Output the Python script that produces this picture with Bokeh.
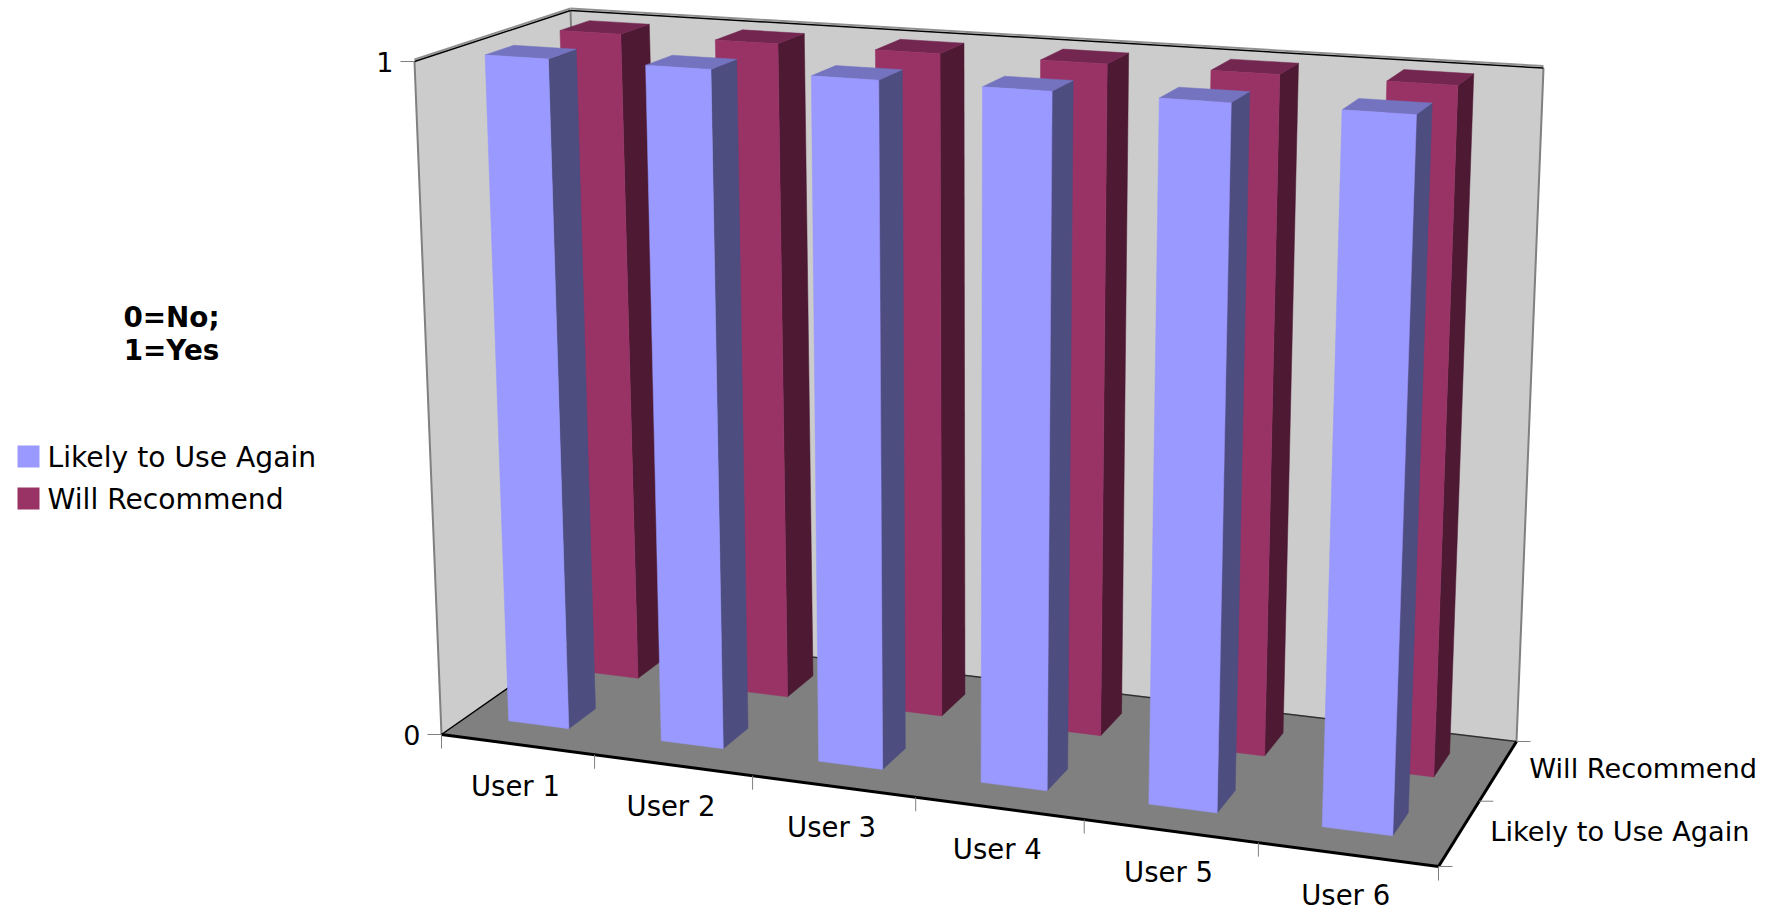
import numpy as np
from bokeh.embed import file_html
from bokeh.models import ColumnDataSource, Range1d
from bokeh.plotting import figure
from bokeh.resources import INLINE
from bokeh.core.properties import value

# Chart data
users = ["User 1", "User 2", "User 3", "User 4", "User 5", "User 6"]
series = ["Likely to Use Again", "Will Recommend"]
likely_to_use_again = [1, 1, 1, 1, 1, 1]
will_recommend = [1, 1, 1, 1, 1, 1]
value_ticks = [0, 1]

# Colours per series: front, side, top
face_colors = {
    "Likely to Use Again": ("#9999FF", "#4D4D80", "#7373BF"),
    "Will Recommend": ("#993366", "#4D1933", "#732650"),
}
FONT = "DejaVu Sans"

W, H = 1767, 912

# Screen position of the box corners: front-left, back-left, back-right, front-right
floor_corners = [(441, 734), (590, 630), (1516, 741), (1438, 866)]
top_corners = [(414, 61), (570, 10), (1543, 67.6), (1465, 129.5)]


def homography(corners):
    """Map the unit square (u along users, v into depth) on to a screen quadrilateral."""
    src = [(0, 0), (0, 1), (1, 1), (1, 0)]
    a, b = [], []
    for (u, v), (x, y) in zip(src, corners):
        a.append([u, v, 1, 0, 0, 0, -u * x, -v * x])
        b.append(x)
        a.append([0, 0, 0, u, v, 1, -u * y, -v * y])
        b.append(y)
    return np.append(np.linalg.solve(np.array(a, float), np.array(b, float)), 1).reshape(3, 3)


H_floor = homography(floor_corners)
H_top = homography(top_corners)


def apply(m, u, v):
    q = m @ np.array([u, v, 1.0])
    return q[:2] / q[2]


def project(cat, depth, val):
    """Category position (0..6), depth (0..1), value (0..1) to screen coordinates."""
    u = cat / len(users)
    return (1 - val) * apply(H_floor, u, depth) + val * apply(H_top, u, depth)


def poly(points):
    pts = [project(*pt) for pt in points]
    return [float(q[0]) for q in pts], [float(q[1]) for q in pts]


p = figure(
    width=W, height=H, output_backend="svg", toolbar_location=None,
    x_range=Range1d(0, W), y_range=Range1d(H, 0),
    min_border=0, outline_line_color=None, background_fill_color="white",
)
p.axis.visible = False
p.grid.visible = False


def draw_polys(polys, colors):
    src = ColumnDataSource(dict(
        xs=[q[0] for q in polys], ys=[q[1] for q in polys], c=colors))
    p.patches("xs", "ys", source=src, fill_color="c", line_color="c", line_width=0.5)


def draw_line(a, b, color, width, dy=0):
    ax, ay = project(*a)
    bx, by = project(*b)
    p.line([ax, bx], [ay + dy, by + dy], line_color=color, line_width=width)


# Walls and floor
draw_polys(
    [poly([(0, 0, 0), (0, 1, 0), (0, 1, 1), (0, 0, 1)]),
     poly([(0, 1, 0), (6, 1, 0), (6, 1, 1), (0, 1, 1)]),
     poly([(0, 0, 0), (0, 1, 0), (6, 1, 0), (6, 0, 0)])],
    ["#CCCCCC", "#CCCCCC", "#808080"],
)

# Frame edges
draw_line((0, 0, 0), (0, 0, 1), "#808080", 2)
draw_line((0, 1, 0), (0, 1, 1), "#808080", 2)
draw_line((6, 1, 0), (6, 1, 1), "#808080", 2)
draw_line((0, 0, 1), (0, 1, 1), "#909090", 2, dy=-2)
draw_line((0, 1, 1), (6, 1, 1), "#909090", 2, dy=-2)
draw_line((0, 0, 1), (0, 1, 1), "#000000", 1.5)
draw_line((0, 1, 1), (6, 1, 1), "#000000", 1.5)
draw_line((0, 1, 0), (6, 1, 0), "#303030", 1.5)
draw_line((0, 0, 0), (0, 1, 0), "#000000", 1.5)
draw_line((0, 0, 0), (6, 0, 0), "#000000", 3)
draw_line((6, 0, 0), (6, 1, 0), "#000000", 3)

# Bars: back row first so the front row overlaps it
BAR_U = {"Likely to Use Again": (0.268, 0.666), "Will Recommend": (0.28, 0.675)}
BAR_V = {"Likely to Use Again": (0.17, 0.35), "Will Recommend": (0.64, 0.84)}
values = {"Likely to Use Again": likely_to_use_again, "Will Recommend": will_recommend}
for name in reversed(series):
    front, side, top = face_colors[name]
    v0, v1 = BAR_V[name]
    polys, colors = [], []
    for i, val in enumerate(values[name]):
        u0, u1 = i + BAR_U[name][0], i + BAR_U[name][1]
        polys.append(poly([(u1, v0, 0), (u1, v1, 0), (u1, v1, val), (u1, v0, val)]))
        colors.append(side)
        polys.append(poly([(u0, v0, val), (u1, v0, val), (u1, v1, val), (u0, v1, val)]))
        colors.append(top)
        polys.append(poly([(u0, v0, 0), (u1, v0, 0), (u1, v0, val), (u0, v0, val)]))
        colors.append(front)
    draw_polys(polys, colors)

# Tick marks
TICK = 14
xs, ys = [], []
for i in range(len(users) + 1):
    x, y = project(i, 0, 0)
    xs.append([x, x])
    ys.append([y, y + TICK])
for d in (0.0, 0.5, 1.0):
    x, y = project(6, d, 0)
    xs.append([x, x + TICK])
    ys.append([y, y])
for t in value_ticks:
    x, y = project(0, 0, t)
    xs.append([x - TICK, x])
    ys.append([y, y])
p.multi_line(xs, ys, line_color="#808080", line_width=1)


def draw_text(x, y, txt, size, align="center", style="normal"):
    p.text([x], [y], text=[txt], text_font=value(FONT), text_font_size=size,
           text_align=align, text_baseline="middle", text_color="#000000",
           text_font_style=style)


# Category labels
for i, name in enumerate(users):
    x, y = project(i + 0.5, 0, 0)
    draw_text(x - 2, y + 41, name, "27.5px")

# Depth labels
for d, name in zip((0.25, 0.75), series):
    x, y = project(6, d, 0)
    draw_text(x + 31, y - 2, name, "27.2px", align="left")

# Value labels
for t in value_ticks:
    x, y = project(0, 0, t)
    draw_text(x - TICK - 7, y, str(t), "27px", align="right")

# Value axis title and legend
draw_text(171, 317, "0=No;", "27.8px", style="bold")
draw_text(171, 350, "1=Yes", "27.8px", style="bold")
swatch_y = [456, 498]
for y, name in zip(swatch_y, series):
    p.rect([28], [y], width=22, height=22, fill_color=face_colors[name][0], line_color=None)
    draw_text(47, y + 1, name, "28.2px", align="left")

open("out.html", "w").write(file_html(p, INLINE))
